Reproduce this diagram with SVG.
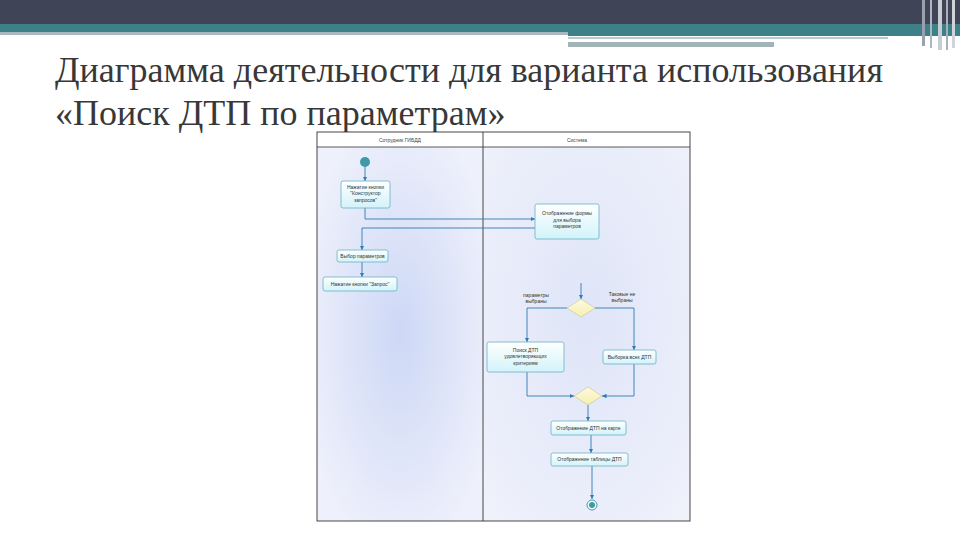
<svg xmlns="http://www.w3.org/2000/svg" width="960" height="540" viewBox="0 0 960 540">
<defs>
<radialGradient id="laneL" cx="0.5" cy="0.5" r="0.6">
<stop offset="0" stop-color="#cdd8f6"/>
<stop offset="1" stop-color="#eef0fb"/>
</radialGradient>
<radialGradient id="laneR" cx="0.5" cy="0.45" r="0.7">
<stop offset="0" stop-color="#dfe5f8"/>
<stop offset="1" stop-color="#eff1fb"/>
</radialGradient>
<linearGradient id="nodeG" x1="0" y1="0" x2="0" y2="1">
<stop offset="0" stop-color="#ffffff"/>
<stop offset="1" stop-color="#d2f3fa"/>
</linearGradient>
<linearGradient id="decG" x1="0" y1="0" x2="0" y2="1">
<stop offset="0" stop-color="#fffbe0"/>
<stop offset="1" stop-color="#f5eeb0"/>
</linearGradient>
<marker id="arr" viewBox="0 0 6 6" refX="6" refY="3" markerWidth="5" markerHeight="5" orient="auto">
<path d="M0,0 L6,3 L0,6 z" fill="#2f7bb5"/>
</marker>
</defs>
<style>
.title{font-family:"Liberation Serif",serif;font-size:36px;fill:#383838}
.node{fill:url(#nodeG);stroke:#6ab0c2;stroke-width:0.8}
.dec{fill:url(#decG);stroke:#c9c28a;stroke-width:0.6}
.t{font-family:"Liberation Sans",Arial,sans-serif;font-size:5px;fill:#333;text-anchor:middle}
.h{font-family:"Liberation Sans",Arial,sans-serif;font-size:5px;fill:#444;text-anchor:middle}
.c{fill:none;stroke:#2f7bb5;stroke-width:0.9}
</style>
<rect width="960" height="540" fill="#ffffff"/>
<!-- header bar -->
<rect x="0" y="0" width="960" height="24" fill="#3f4556"/>
<rect x="0" y="24" width="960" height="8" fill="#3d8087"/>
<rect x="0" y="32" width="568" height="3" fill="#a9b8c0"/>
<rect x="568" y="32" width="392" height="4" fill="#3d8087"/>
<rect x="568" y="37" width="320" height="2" fill="#b8ccd0"/>
<rect x="568" y="42" width="206" height="5" fill="#a3b4b6"/>
<rect x="922" y="0" width="3" height="46" fill="#9aa0ac"/>
<rect x="930" y="0" width="2" height="48" fill="#b0b6c0"/>
<rect x="938" y="0" width="4" height="50" fill="#c8ccd4"/>
<rect x="946" y="0" width="2" height="50" fill="#aab0ba"/>
<rect x="952" y="0" width="3" height="48" fill="#d0d4da"/>
<!-- title -->
<text class="title" x="55" y="82">Диаграмма деятельности для варианта использования</text>
<text class="title" x="55" y="125">«Поиск ДТП по параметрам»</text>
<!-- swimlanes -->
<g id="lanes">
<rect x="317" y="147" width="166" height="374" fill="url(#laneL)"/>
<rect x="483" y="147" width="207" height="374" fill="url(#laneR)"/>
<rect x="317" y="132" width="373" height="15" fill="#ffffff"/>
<rect x="317" y="132" width="373" height="389" fill="none" stroke="#333" stroke-width="0.9"/>
<line x1="317" y1="147" x2="690" y2="147" stroke="#333" stroke-width="0.8"/>
<line x1="483" y1="132" x2="483" y2="521" stroke="#333" stroke-width="0.9"/>
<text class="h" x="400" y="141.5">Сотрудник ГИБДД</text>
<text class="h" x="577" y="141.5">Система</text>
</g>
<!-- connectors -->
<g id="connectors">
<path class="c" d="M365,167 L365,181" marker-end="url(#arr)"/>
<path class="c" d="M365,208 L365,219 L535,219" marker-end="url(#arr)"/>
<path class="c" d="M535,228 L362,228 L362,250" marker-end="url(#arr)"/>
<path class="c" d="M362,262 L362,277" marker-end="url(#arr)"/>
<path class="c" d="M581,283 L581,299" marker-end="url(#arr)"/>
<path class="c" d="M567,308 L527,308 L527,342" marker-end="url(#arr)"/>
<path class="c" d="M595,308 L634,308 L634,350" marker-end="url(#arr)"/>
<path class="c" d="M527,372 L527,396 L574,396" marker-end="url(#arr)"/>
<path class="c" d="M634,364 L634,396 L602,396" marker-end="url(#arr)"/>
<path class="c" d="M588,405 L588,421" marker-end="url(#arr)"/>
<path class="c" d="M591,435 L591,453" marker-end="url(#arr)"/>
<path class="c" d="M592,466 L592,499" marker-end="url(#arr)"/>
</g>
<!-- nodes -->
<g id="start"><circle cx="365" cy="162" r="5" fill="#3f9aa6"/></g>
<g id="n1">
<rect class="node" x="341" y="181" width="49" height="27" rx="2"/>
<text class="t" x="365.5" y="188.5">Нажатие кнопки</text>
<text class="t" x="365.5" y="195">"Конструктор</text>
<text class="t" x="365.5" y="201.5">запросов"</text>
</g>
<g id="n2">
<rect class="node" x="535" y="204" width="64" height="35" rx="2"/>
<text class="t" x="567" y="215">Отображение формы</text>
<text class="t" x="567" y="221.5">для выбора</text>
<text class="t" x="567" y="228">параметров</text>
</g>
<g id="n3">
<rect class="node" x="337" y="250" width="51" height="12" rx="2"/>
<text class="t" x="362.5" y="257.8">Выбор параметров</text>
</g>
<g id="n4">
<rect class="node" x="323" y="277" width="74" height="14" rx="2"/>
<text class="t" x="360" y="285.8">Нажатие кнопки "Запрос"</text>
</g>
<g id="d1">
<polygon class="dec" points="581,299 595,308 581,317 567,308"/>
<text class="t" x="536" y="297">параметры</text>
<text class="t" x="536" y="303">выбраны</text>
<text class="t" x="622" y="296">Таковые не</text>
<text class="t" x="622" y="302">выбраны</text>
</g>
<g id="n5">
<rect class="node" x="487" y="342" width="77" height="30" rx="2"/>
<text class="t" x="525.5" y="351.5">Поиск ДТП</text>
<text class="t" x="525.5" y="358">удовлетворяющих</text>
<text class="t" x="525.5" y="364.5">критериям</text>
</g>
<g id="n6">
<rect class="node" x="603" y="350" width="53" height="14" rx="2"/>
<text class="t" x="629.5" y="358.8">Выборка всех ДТП</text>
</g>
<g id="d2">
<polygon class="dec" points="588,387 602,396 588,405 574,396"/>
</g>
<g id="n7">
<rect class="node" x="551" y="421" width="75" height="14" rx="2"/>
<text class="t" x="588.5" y="429.8">Отображение ДТП на карте</text>
</g>
<g id="n8">
<rect class="node" x="551" y="453" width="77" height="13" rx="2"/>
<text class="t" x="589.5" y="461.3">Отображение таблицы ДТП</text>
</g>
<g id="end">
<circle cx="592" cy="505" r="5" fill="#ffffff" stroke="#3f9aa6" stroke-width="1"/>
<circle cx="592" cy="505" r="3" fill="#3f9aa6"/>
</g>
</svg>
